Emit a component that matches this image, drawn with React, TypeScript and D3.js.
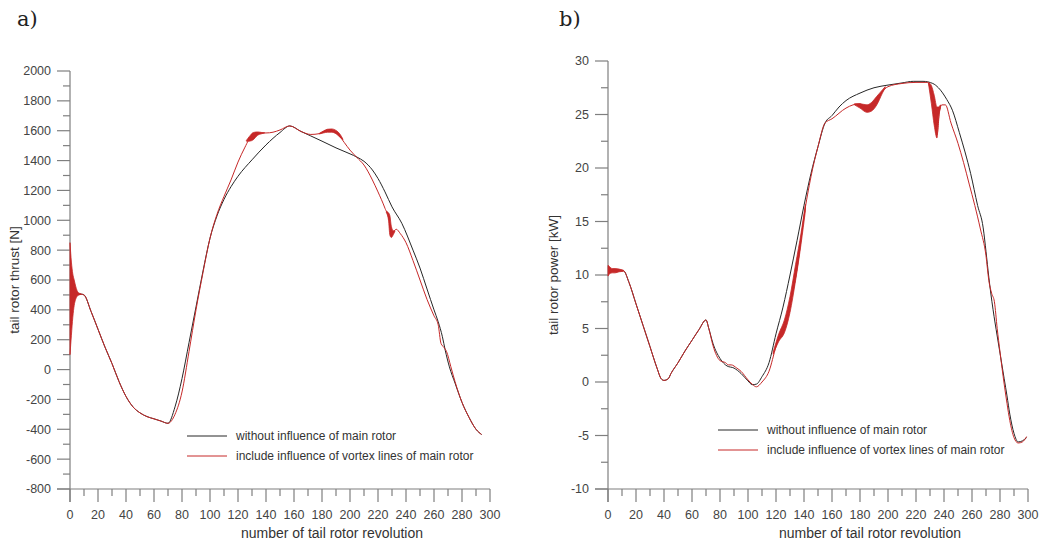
import React from 'react';
import * as d3 from 'd3';

// ---------- shared axis data ----------
const revTicks = [0, 20, 40, 60, 80, 100, 120, 140, 160, 180, 200, 220, 240, 260, 280, 300];
const revMinor = [10, 30, 50, 70, 90, 110, 130, 150, 170, 190, 210, 230, 250, 270, 290];
const xTitle = 'number of tail rotor revolution';
const legendLabels = ['without influence of main rotor', 'include influence of vortex lines of main rotor'];

// ---------- panel a: thrust ----------
const thrustTicks = [-800, -600, -400, -200, 0, 200, 400, 600, 800, 1000, 1200, 1400, 1600, 1800, 2000];
const thrustMinor = [-700, -500, -300, -100, 100, 300, 500, 700, 900, 1100, 1300, 1500, 1700, 1900];
const thrustBlackX = [0, 5, 8, 10, 15, 20, 25, 30, 35, 40, 45, 50, 55, 60, 65, 70, 75, 80, 85, 90, 95, 100, 105, 110, 115, 120, 130, 140, 150, 157, 165, 172, 180, 190, 200, 205, 210, 216, 220, 225, 230, 237, 245, 250, 255, 260, 263, 266, 268, 271, 275, 280, 285, 290, 294];
const thrustBlackY = [505, 505, 505, 500, 390, 270, 150, 40, -80, -180, -250, -290, -315, -330, -345, -360, -250, -60, 180, 420, 660, 880, 1030, 1140, 1225, 1295, 1405, 1505, 1588, 1632, 1595, 1565, 1530, 1485, 1445, 1423, 1395, 1337, 1280, 1190, 1090, 980, 800, 680, 540, 400, 320, 220, 130, 18, -90, -220, -320, -400, -435];
const thrustRedX = [0, 5, 8, 10, 15, 20, 25, 30, 35, 40, 45, 50, 55, 60, 65, 70, 75, 80, 85, 90, 95, 100, 105, 110, 115, 120, 125, 130, 135, 140, 145, 150, 157, 165, 172, 178, 184, 188, 192, 196, 200, 205, 210, 216, 220, 225, 228, 229.5, 231, 233, 236, 240, 245, 250, 255, 260, 263, 265, 267, 269, 272, 275, 280, 285, 290, 294];
const thrustRedY = [505, 505, 505, 500, 390, 270, 150, 40, -80, -180, -250, -290, -315, -330, -345, -360, -300, -150, 120, 400, 650, 880, 1040, 1160, 1270, 1390, 1490, 1570, 1585, 1585, 1590, 1605, 1632, 1595, 1575, 1580, 1605, 1600, 1570, 1520, 1470, 1420, 1370, 1270, 1190, 1080, 1000, 900, 920, 940, 910, 850, 730, 600, 470, 360, 300, 175, 150, 120, 20, -80, -220, -320, -400, -435];
const thrustBandX = [0, 1, 2, 3, 4, 5, 6, 7, 8];
const thrustBandLo = [100, 230, 350, 430, 470, 490, 498, 502, 505];
const thrustBandHi = [850, 720, 640, 600, 560, 530, 515, 510, 506];
const thrustBand2X = [126, 128, 131, 134, 137, 139];
const thrustBand2Lo = [1530, 1530, 1540, 1570, 1580, 1585];
const thrustBand2Hi = [1535, 1560, 1588, 1592, 1588, 1586];
const thrustBand3X = [178, 181, 184, 187, 190, 193, 195];
const thrustBand3Lo = [1578, 1585, 1590, 1590, 1580, 1555, 1540];
const thrustBand3Hi = [1582, 1598, 1610, 1612, 1602, 1575, 1542];
const thrustBand4X = [226, 227.5, 228.5, 229.5, 231, 232];
const thrustBand4Lo = [1050, 1000, 900, 885, 905, 925];
const thrustBand4Hi = [1060, 1050, 1030, 960, 930, 930];

// ---------- panel b: power ----------
const powerTicks = [-10, -5, 0, 5, 10, 15, 20, 25, 30];
const powerMinor = [-7.5, -2.5, 2.5, 7.5, 12.5, 17.5, 22.5, 27.5];
const powerBlackX = [0, 5, 11, 15, 20, 25, 30, 35, 38, 40, 43, 45, 50, 55, 60, 65, 70, 72, 75, 80, 85, 90, 95, 100, 103, 106, 110, 115, 120, 125, 130, 135, 140, 145, 150, 155, 160, 165, 170, 180, 190, 200, 210, 218, 225, 232, 236, 242, 246, 251, 255, 259, 264, 268, 270, 272, 275, 278, 280, 283, 285, 287, 290, 293, 296, 299];
const powerBlackY = [10.4, 10.4, 10.4, 9.3, 7.3, 5.3, 3.3, 1.3, 0.3, 0.15, 0.3, 0.8, 1.8, 2.9, 3.9, 4.9, 5.8, 5.0, 3.6, 2.2, 1.5, 1.3, 0.8, 0.1, -0.25, -0.2, 0.5, 1.8, 4.5, 7.0, 10.0, 13.2, 16.5, 19.5, 22.0, 24.2, 24.9, 25.7, 26.3, 27.0, 27.5, 27.75, 27.95, 28.1, 28.1, 27.9, 27.5, 26.4, 25.4, 23.3, 21.5, 19.5, 16.5, 14.4, 12.2, 9.8, 6.8, 4.3, 2.7, 0.3, -1.3, -3.0, -4.8, -5.6, -5.5, -5.2];
const powerRedX = [0, 5, 11, 15, 20, 25, 30, 35, 38, 40, 43, 45, 50, 55, 60, 65, 70, 72, 75, 80, 84, 86, 88, 92, 95, 100, 103, 106, 110, 115, 120, 125, 130, 135, 140, 145, 150, 155, 160, 170, 175, 180, 185, 190, 195, 200, 210, 220, 228, 230, 232, 235, 237, 238.5, 241, 245, 250, 254, 258, 262, 266, 270, 272, 274, 276, 278, 280, 283, 285, 287, 290, 293, 296, 299];
const powerRedY = [10.4, 10.4, 10.4, 9.3, 7.3, 5.3, 3.3, 1.3, 0.3, 0.15, 0.3, 0.8, 1.8, 2.9, 3.9, 4.9, 5.8, 5.0, 3.4, 2.0, 1.8, 1.6, 1.6, 1.3, 1.0, 0.2, -0.2, -0.45, 0.0, 1.0, 3.3, 5.0, 7.3, 10.5, 15.5, 19.2, 22.0, 24.2, 24.6, 25.6, 25.9, 26.0, 25.6, 26.0, 27.0, 27.6, 27.9, 28.0, 28.0, 27.5, 26.0, 23.1, 25.5, 25.9, 25.9, 24.2, 22.3, 20.5, 18.5, 16.5, 14.3, 11.8, 9.5, 8.3, 7.5, 5.0, 2.8, -0.2, -2.0, -3.6, -5.2, -5.7, -5.6, -5.1];
const powerBandX = [0, 1, 3, 5, 8, 11];
const powerBandLo = [9.9, 10.1, 10.2, 10.2, 10.3, 10.35];
const powerBandHi = [10.9, 10.8, 10.6, 10.6, 10.55, 10.45];
const powerBand2X = [118, 122, 126, 130, 134, 138, 141];
const powerBand2Lo = [2.6, 3.8, 4.6, 6.5, 9.5, 13.0, 16.0];
const powerBand2Hi = [2.8, 4.5, 5.8, 8.0, 11.0, 14.0, 16.6];
const powerBand3X = [176, 180, 185, 188, 192, 196, 198];
const powerBand3Lo = [25.9, 25.6, 25.2, 25.3, 25.9, 27.0, 27.5];
const powerBand3Hi = [26.0, 26.0, 25.9, 26.1, 26.7, 27.3, 27.6];
const powerBand4X = [229, 231, 233, 235, 236, 237.5];
const powerBand4Lo = [27.8, 26.0, 24.0, 22.8, 24.5, 25.6];
const powerBand4Hi = [28.0, 27.7, 26.8, 25.7, 25.7, 25.9];

const RED = '#c62828';
const BLACK = '#262626';
const AXIS = '#7f7f7f';
const TXT = '#444';
const FONT = 'Liberation Sans, Arial, sans-serif';

type Band = { x: number[]; lo: number[]; hi: number[] };

interface PanelProps {
  xr: [number, number];
  yr: [number, number];
  yDomain: [number, number];
  yTicks: number[];
  yMinor: number[];
  yTitle: string;
  yTitleX: number;
  letter: string;
  letterX: number;
  bx: number[]; by: number[];
  rx: number[]; ry: number[];
  bands: Band[];
  legX: number; legY: number;
}

function Panel(p: PanelProps) {
  const x = d3.scaleLinear().domain([0, 300]).range(p.xr);
  const y = d3.scaleLinear().domain(p.yDomain).range(p.yr);
  const line = d3.line<[number, number]>().x(d => x(d[0])).y(d => y(d[1])).curve(d3.curveMonotoneX);
  const area = d3.area<[number, number, number]>().x(d => x(d[0])).y0(d => y(d[1])).y1(d => y(d[2])).curve(d3.curveMonotoneX);
  const bPts = p.bx.map((v, i) => [v, p.by[i]] as [number, number]);
  const rPts = p.rx.map((v, i) => [v, p.ry[i]] as [number, number]);
  const ax = p.xr[0];
  const ay = p.yr[0];
  const MAJ = 13, MIN = 7;
  return (
    <g>
      <text x={p.letterX} y={26} fontFamily="DejaVu Serif, serif" fontSize={21} fill="#222">{p.letter}</text>
      {/* y axis */}
      <line x1={ax} x2={ax} y1={p.yr[1]} y2={ay + MAJ} stroke={AXIS} strokeWidth={1.2} />
      {p.yTicks.map(t => (
        <g key={'yt' + t}>
          <line x1={ax - MAJ} x2={ax} y1={y(t)} y2={y(t)} stroke={AXIS} strokeWidth={1.2} />
          <text x={ax - 19} y={y(t)} dy="0.35em" textAnchor="end" fontFamily={FONT} fontSize={12.5} fill={TXT}>{t}</text>
        </g>
      ))}
      {p.yMinor.map(t => (
        <line key={'ym' + t} x1={ax - MIN} x2={ax} y1={y(t)} y2={y(t)} stroke={AXIS} strokeWidth={1.2} />
      ))}
      {/* x axis */}
      <line x1={ax - MAJ} x2={p.xr[1]} y1={ay} y2={ay} stroke={AXIS} strokeWidth={1.2} />
      {revTicks.map(t => (
        <g key={'xt' + t}>
          <line x1={x(t)} x2={x(t)} y1={ay} y2={ay + MAJ} stroke={AXIS} strokeWidth={1.2} />
          <text x={x(t)} y={ay + 30} textAnchor="middle" fontFamily={FONT} fontSize={12.5} fill={TXT}>{t}</text>
        </g>
      ))}
      {revMinor.map(t => (
        <line key={'xm' + t} x1={x(t)} x2={x(t)} y1={ay} y2={ay + MIN} stroke={AXIS} strokeWidth={1.2} />
      ))}
      <text x={(x(60) + x(300)) / 2 + 10} y={ay + 49} textAnchor="middle" fontFamily={FONT} fontSize={14} fill="#333">{xTitle}</text>
      <text transform={`translate(${p.yTitleX},${(p.yr[0] + p.yr[1]) / 2}) rotate(-90)`} textAnchor="middle" fontFamily={FONT} fontSize={13.5} fill="#333">{p.yTitle}</text>
      {/* curves */}
      <path d={line(bPts) || ''} fill="none" stroke={BLACK} strokeWidth={1} />
      <path d={line(rPts) || ''} fill="none" stroke={RED} strokeWidth={1} />
      {p.bands.map((b, i) => (
        <path key={'band' + i} d={area(b.x.map((v, j) => [v, b.lo[j], b.hi[j]] as [number, number, number])) || ''} fill={RED} stroke={RED} strokeWidth={0.8} />
      ))}
      {/* legend */}
      {legendLabels.map((l, i) => (
        <g key={'leg' + i}>
          <line x1={p.legX} x2={p.legX + 40} y1={p.legY + i * 20} y2={p.legY + i * 20} stroke={i === 0 ? BLACK : RED} strokeWidth={1} />
          <text x={p.legX + 49} y={p.legY + i * 20} dy="0.35em" fontFamily={FONT} fontSize={12} fill="#333">{l}</text>
        </g>
      ))}
    </g>
  );
}

export default function App() {
  return (
    <svg width={1053} height={545} style={{ position: 'absolute', left: 0, top: 0, background: '#fff' }}>
      <rect width={1053} height={545} fill="#fff" />
      <Panel
        xr={[70, 490]} yr={[489, 71]} yDomain={[-800, 2000]}
        yTicks={thrustTicks} yMinor={thrustMinor}
        yTitle="tail rotor thrust [N]" yTitleX={19}
        letter="a)" letterX={17}
        bx={thrustBlackX} by={thrustBlackY} rx={thrustRedX} ry={thrustRedY}
        bands={[
          { x: thrustBandX, lo: thrustBandLo, hi: thrustBandHi },
          { x: thrustBand2X, lo: thrustBand2Lo, hi: thrustBand2Hi },
          { x: thrustBand3X, lo: thrustBand3Lo, hi: thrustBand3Hi },
          { x: thrustBand4X, lo: thrustBand4Lo, hi: thrustBand4Hi },
        ]}
        legX={187} legY={436}
      />
      <Panel
        xr={[608, 1028]} yr={[489, 61]} yDomain={[-10, 30]}
        yTicks={powerTicks} yMinor={powerMinor}
        yTitle="tail rotor power [kW]" yTitleX={558}
        letter="b)" letterX={559}
        bx={powerBlackX} by={powerBlackY} rx={powerRedX} ry={powerRedY}
        bands={[
          { x: powerBandX, lo: powerBandLo, hi: powerBandHi },
          { x: powerBand2X, lo: powerBand2Lo, hi: powerBand2Hi },
          { x: powerBand3X, lo: powerBand3Lo, hi: powerBand3Hi },
          { x: powerBand4X, lo: powerBand4Lo, hi: powerBand4Hi },
        ]}
        legX={718} legY={430}
      />
    </svg>
  );
}
